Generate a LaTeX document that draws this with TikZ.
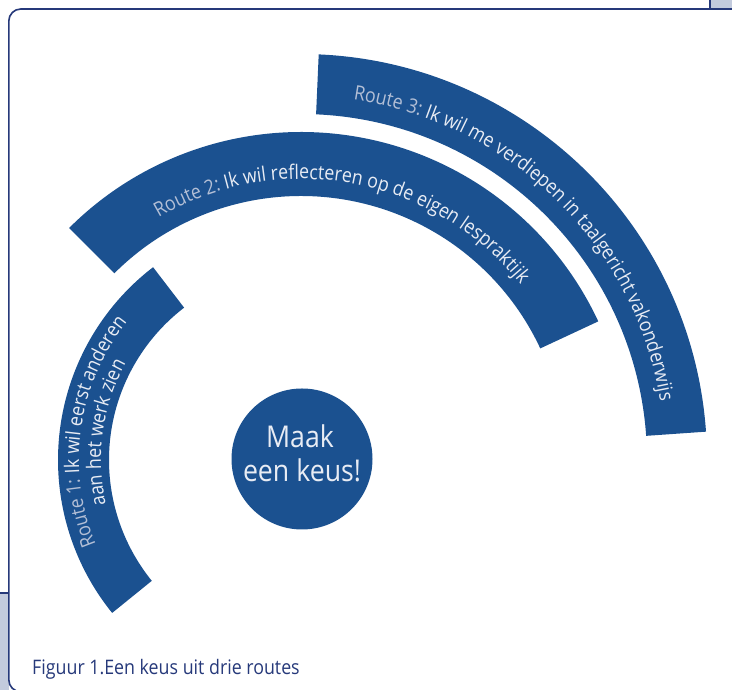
\documentclass[tikz,border=0pt]{standalone}
\usepackage{fontspec}
\setmainfont{Open Sans}
\newfontfamily\arcfont[FakeStretch=0.89]{Open Sans}
\usetikzlibrary{calc,decorations.text}
\definecolor{bandblue}{HTML}{1B5190}
\definecolor{framenavy}{HTML}{26397A}
\definecolor{boxgray}{HTML}{C3CBDD}
\definecolor{labelgray}{HTML}{B3BFD6}
\definecolor{textlight}{HTML}{E8ECF4}
\begin{document}
\begin{tikzpicture}[x=1pt,y=1pt,
  band/.style={fill=bandblue},
  frameline/.style={draw=framenavy, line width=1.6pt},
  arctext/.style={decorate, decoration={text along path, text align=center}}]
\useasboundingbox (0,0) rectangle (732,690);
\coordinate (C) at (301,230);
% grey boxes at the edges
\fill[boxgray] (710,681) rectangle (733,691);
\draw[frameline] (710,681) -- (710,691);
\fill[boxgray] (-1,-1) rectangle (8.8,97);
\draw[frameline] (-1,97) -- (8.8,97);
% frame
\draw[frameline, rounded corners=12pt] (745,681) -- (8.8,681) -- (8.8,-1.8) -- (745,-1.8);
% bands
\fill[band] ($(C)+(127.5:243pt)$) arc[start angle=127.5,end angle=219,radius=243pt]
  -- ($(C)+(219:192pt)$) arc[start angle=219,end angle=127.5,radius=192pt] -- cycle;
\fill[band] ($(C)+(25:328pt)$) arc[start angle=25,end angle=135,radius=328pt]
  -- ($(C)+(135:264pt)$) arc[start angle=135,end angle=25,radius=264pt] -- cycle;
\fill[band] ($(C)+(4:406pt)$) arc[start angle=4,end angle=87.5,radius=406pt]
  -- ($(C)+(87.5:346pt)$) arc[start angle=87.5,end angle=4,radius=346pt] -- cycle;
% band texts
\path[arctext, decoration={text={|\arcfont\fontsize{20}{22}\selectfont\color{labelgray}|Route 1: |+\color{textlight}|Ik wil eerst anderen}}]
  ($(C)+(242:222pt)$) arc[start angle=242,end angle=102,radius=222pt];
\path[arctext, decoration={text={|\arcfont\fontsize{20}{22}\selectfont\color{textlight}|aan het werk zien}}]
  ($(C)+(242:200pt)$) arc[start angle=242,end angle=102,radius=200pt];
\path[arctext, decoration={text={|\arcfont\fontsize{20}{22}\selectfont\color{labelgray}|Route 2: |+\color{textlight}|Ik wil reflecteren op de eigen lespraktijk}}]
  ($(C)+(149.5:281pt)$) arc[start angle=149.5,end angle=9.5,radius=281pt];
\path[arctext, decoration={text={|\arcfont\fontsize{20}{22}\selectfont\color{labelgray}|Route 3: |+\color{textlight}|Ik wil me verdiepen in taalgericht vakonderwijs}}]
  ($(C)+(95.5:364pt)$) arc[start angle=95.5,end angle=-4.5,radius=364pt];
% centre circle
\node[circle, fill=bandblue, minimum size=141pt, inner sep=0pt] (choice) at (302,231) {};
\node[anchor=base, inner sep=0pt, text=textlight, font=\arcfont\fontsize{30}{34}\selectfont] (maak) at (300,242) {Maak};
\node[anchor=base, inner sep=0pt, text=textlight, font=\arcfont\fontsize{30}{34}\selectfont] (keus) at (302,208) {een keus!};
% caption
\node[anchor=base west, inner sep=0pt, text=framenavy, font=\arcfont\fontsize{20}{24}\selectfont] (caption) at (32,15) {Figuur 1.Een keus uit drie routes};
\end{tikzpicture}
\end{document}
